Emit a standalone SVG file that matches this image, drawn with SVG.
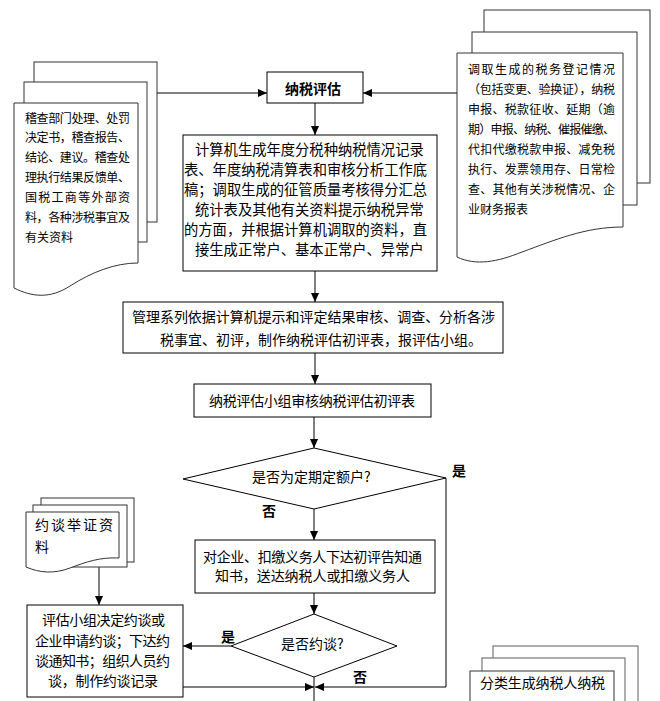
<svg xmlns="http://www.w3.org/2000/svg" width="660" height="701" viewBox="0 0 660 701">
<defs>
<style>
.bx{fill:#fff;stroke:#000;stroke-width:1}
.sh{fill:#fff;stroke:#333;stroke-width:1}
.shg{fill:#fff;stroke:#777;stroke-width:1.2}
.t{font-family:"Noto Sans CJK SC","Liberation Sans",sans-serif;font-size:14px;fill:#000}
.s{font-size:12px}
.b{font-weight:bold}
.ln{fill:none;stroke:#000;stroke-width:1}
</style>
<marker id="arr" viewBox="0 0 10 10" refX="10" refY="5" markerWidth="10" markerHeight="9" orient="auto" markerUnits="userSpaceOnUse">
<path d="M0,0.5 L10,5 L0,9.5 Z" fill="#000"/>
</marker>
</defs>
<rect width="660" height="701" fill="#fff"/>

<g id="connectors">
<line class="ln" x1="157" y1="93" x2="267" y2="93" marker-end="url(#arr)"/>
<line class="ln" x1="457" y1="93" x2="363" y2="93" marker-end="url(#arr)"/>
<line class="ln" x1="315" y1="103" x2="315" y2="135" marker-end="url(#arr)"/>
<line class="ln" x1="315" y1="271" x2="315" y2="302" marker-end="url(#arr)"/>
<line class="ln" x1="315" y1="353" x2="315" y2="384" marker-end="url(#arr)"/>
<line class="ln" x1="314" y1="417" x2="314" y2="448" marker-end="url(#arr)"/>
<line class="ln" x1="314" y1="509" x2="314" y2="540" marker-end="url(#arr)"/>
<line class="ln" x1="314" y1="593" x2="314" y2="614" marker-end="url(#arr)"/>
<line class="ln" x1="231" y1="646" x2="183" y2="646" marker-end="url(#arr)"/>
<line class="ln" x1="99" y1="561" x2="99" y2="605" marker-end="url(#arr)"/>
<line class="ln" x1="183" y1="687" x2="314" y2="687" marker-end="url(#arr)"/>
<polyline class="ln" points="446,478 446,687 315,687" marker-end="url(#arr)"/>
<line class="ln" x1="314" y1="677" x2="314" y2="701"/>
<text class="t b" x="452" y="476">是</text>
<text class="t b" x="262" y="516">否</text>
<text class="t b" x="221" y="642">是</text>
<text class="t b" x="353" y="682">否</text>
</g>

<g id="doc-left">
<rect class="sh" x="34" y="62" width="123" height="160"/>
<rect class="sh" x="24" y="82" width="123" height="160"/>
<path class="sh" d="M14,103 H138 V263 C115,263 92,272 70,286 C50,299 32,297 14,288 Z"/>
<text class="t s" x="25" y="123" textLength="105" lengthAdjust="spacing">稽查部门处理、处罚</text>
<text class="t s" x="25" y="142" textLength="105" lengthAdjust="spacing">决定书，稽查报告、</text>
<text class="t s" x="25" y="162" textLength="105" lengthAdjust="spacing">结论、建议。稽查处</text>
<text class="t s" x="25" y="182" textLength="105" lengthAdjust="spacing">理执行结果反馈单、</text>
<text class="t s" x="25" y="202" textLength="105" lengthAdjust="spacing">国税工商等外部资</text>
<text class="t s" x="25" y="222" textLength="105" lengthAdjust="spacing">料，各种涉税事宜及</text>
<text class="t s" x="25" y="242">有关资料</text>
</g>

<g id="doc-right">
<rect class="sh" x="484" y="10" width="166" height="173"/>
<rect class="sh" x="472" y="32" width="165" height="173"/>
<path class="sh" d="M457,53 H623 V227 C585,227 555,240 522,252 C497,262 476,266 457,257 Z"/>
<text class="t s" x="468" y="74" textLength="147" lengthAdjust="spacing">调取生成的税务登记情况</text>
<text class="t s" x="468" y="94" textLength="147" lengthAdjust="spacing">（包括变更、验换证），纳税</text>
<text class="t s" x="468" y="114" textLength="147" lengthAdjust="spacing">申报、税款征收、延期（逾</text>
<text class="t s" x="468" y="134" textLength="147" lengthAdjust="spacing">期）申报、纳税、催报催缴、</text>
<text class="t s" x="468" y="154" textLength="147" lengthAdjust="spacing">代扣代缴税款申报、减免税</text>
<text class="t s" x="468" y="174" textLength="147" lengthAdjust="spacing">执行、发票领用存、日常检</text>
<text class="t s" x="468" y="194" textLength="147" lengthAdjust="spacing">查、其他有关涉税情况、企</text>
<text class="t s" x="468" y="214">业财务报表</text>
</g>

<g id="n-start">
<rect class="bx" x="267" y="72" width="96" height="31"/>
<text class="t b" x="285" y="94">纳税评估</text>
</g>

<g id="n-generate">
<rect class="bx" x="183" y="135" width="254" height="136"/>
<g class="t" style="font-size:14.3px">
<text x="195" y="155">计算机生成年度分税种纳税情况记录</text>
<text x="184" y="175">表、年度纳税清算表和审核分析工作底</text>
<text x="184" y="195">稿；调取生成的征管质量考核得分汇总</text>
<text x="195" y="215">统计表及其他有关资料提示纳税异常</text>
<text x="184" y="235">的方面，并根据计算机调取的资料，直</text>
<text x="195" y="255">接生成正常户、基本正常户、异常户</text>
</g>
</g>

<g id="n-review">
<rect class="bx" x="123" y="302" width="380" height="51"/>
<text class="t" x="132" y="322" textLength="363" lengthAdjust="spacing">管理系列依据计算机提示和评定结果审核、调查、分析各涉</text>
<text class="t" x="160" y="345">税事宜、初评，制作纳税评估初评表，报评估小组。</text>
</g>

<g id="n-group">
<rect class="bx" x="194" y="384" width="237" height="33"/>
<text class="t" x="209" y="406" textLength="206" lengthAdjust="spacing">纳税评估小组审核纳税评估初评表</text>
</g>

<g id="d-fixed">
<polygon class="bx" points="314,448 446,478 314,509 183,479"/>
<text class="t" x="252" y="482">是否为定期定额户?</text>
</g>

<g id="n-notice">
<rect class="bx" x="195" y="540" width="240" height="53"/>
<text class="t" x="203" y="562" textLength="219" lengthAdjust="spacing">对企业、扣缴义务人下达初评告知通</text>
<text class="t" x="215" y="581" textLength="195" lengthAdjust="spacing">知书，送达纳税人或扣缴义务人</text>
</g>

<g id="d-interview">
<polygon class="bx" points="314,614 397,646 314,677 231,646"/>
<text class="t" x="281" y="649">是否约谈?</text>
</g>

<g id="doc-evidence">
<rect class="sh" x="41" y="498" width="93" height="64"/>
<rect class="sh" x="33" y="505" width="94" height="62"/>
<path class="sh" d="M26,512 H119 V558 C100,557 86,562 70,568 C54,574 40,573 26,567 Z"/>
<text class="t" x="35" y="530" letter-spacing="2">约谈举证资</text>
<text class="t" x="35" y="552">料</text>
</g>

<g id="n-interview">
<rect class="bx" x="27" y="605" width="156" height="92"/>
<text class="t" x="42" y="625" textLength="123" lengthAdjust="spacing">评估小组决定约谈或</text>
<text class="t" x="35" y="646" textLength="135" lengthAdjust="spacing">企业申请约谈；下达约</text>
<text class="t" x="35" y="666" textLength="135" lengthAdjust="spacing">谈通知书；组织人员约</text>
<text class="t" x="48" y="686" textLength="110" lengthAdjust="spacing">谈，制作约谈记录</text>
</g>

<g id="doc-classify">
<rect class="shg" x="493" y="646" width="145" height="80"/>
<rect class="shg" x="482" y="658" width="143" height="80"/>
<rect class="sh" x="470" y="671" width="144" height="80"/>
<text class="t" x="480" y="688" textLength="125" lengthAdjust="spacing">分类生成纳税人纳税</text>
</g>
</svg>
